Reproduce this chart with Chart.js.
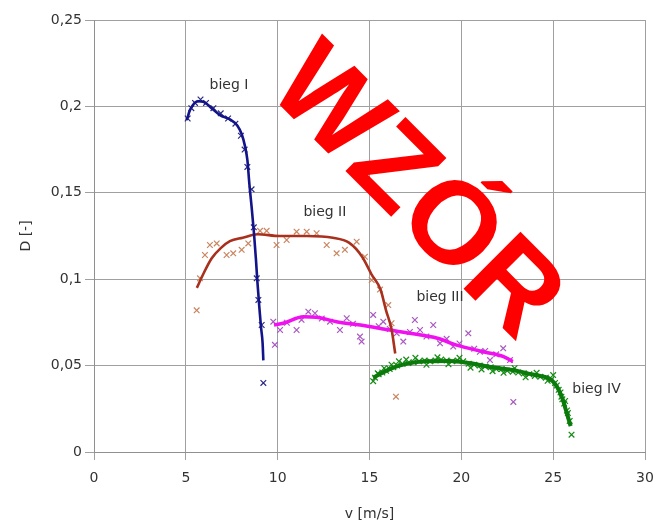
<!DOCTYPE html>
<html>
<head>
<meta charset="utf-8">
<script src="https://cdn.jsdelivr.net/npm/chart.js@4"></script>
<style>
body{margin:0;background:#fff;}
canvas{display:block;}
</style>
</head>
<body>
<canvas id="c" width="655" height="526"></canvas>
<script>
// Dane wykresu
const xTicks=[0,5,10,15,20,25,30];
const yTicks=[0,0.05,0.1,0.15,0.2,0.25];

// bieg I
const lineX1=[5.05,5.23,5.68,5.95,6.4,6.86,7.4,7.8,8.04,8.22,8.35,8.46,8.58,8.71,8.82,8.89,9.0,9.09,9.18,9.22];
const lineY1=[0.192,0.198,0.203,0.2027,0.199,0.195,0.1925,0.189,0.184,0.177,0.169,0.155,0.142,0.1266,0.111,0.0995,0.084,0.0725,0.063,0.053];
const markX1=[5.1,5.3,5.5,5.8,6.1,6.5,6.9,7.3,7.7,8.0,8.2,8.35,8.58,8.7,8.86,8.95,9.13,9.22];
const markY1=[0.193,0.199,0.202,0.204,0.202,0.199,0.196,0.193,0.190,0.183,0.175,0.165,0.152,0.130,0.1005,0.088,0.0735,0.040];

// bieg II
const lineX2=[5.6,5.95,6.4,6.9,7.4,8.1,8.9,10.1,11.6,13.0,13.9,14.6,15.1,15.6,15.9,16.2,16.4];
const lineY2=[0.095,0.103,0.112,0.118,0.122,0.124,0.126,0.125,0.125,0.124,0.121,0.113,0.103,0.094,0.082,0.071,0.057];
const markX2=[5.59,5.77,6.04,6.31,6.68,7.22,7.58,8.04,8.4,9.04,9.4,9.94,10.49,11.03,11.58,12.12,12.67,13.21,13.66,14.3,14.75,15.12,15.57,16.02,16.2,16.44];
const markY2=[0.082,0.1005,0.114,0.1198,0.1207,0.114,0.115,0.117,0.1207,0.128,0.128,0.1198,0.1227,0.1275,0.1275,0.1266,0.1198,0.115,0.117,0.1217,0.113,0.0995,0.094,0.085,0.0745,0.032];

// bieg III
const lineX3=[9.8,10.3,11.4,12.1,13.2,14.5,16.1,17.2,18.7,19.7,21.2,22.3,22.8];
const lineY3=[0.0735,0.0745,0.0783,0.078,0.0754,0.0735,0.0706,0.0687,0.0658,0.062,0.058,0.0552,0.0523];
const markX3=[9.76,9.85,10.13,10.5,11.03,11.3,11.67,12.03,12.4,12.85,13.39,13.76,14.1,14.48,14.57,15.2,15.5,15.75,16.1,16.48,16.84,17.2,17.47,17.75,18.1,18.47,18.84,19.2,19.56,19.9,20.38,20.7,21.01,21.3,21.56,21.9,22.28,22.65,22.83];
const markY3=[0.0754,0.062,0.0706,0.0748,0.0706,0.0765,0.0812,0.0803,0.0772,0.0754,0.0706,0.0774,0.0742,0.0668,0.0639,0.0793,0.0728,0.0754,0.0712,0.0687,0.0639,0.0695,0.0764,0.0706,0.0668,0.0735,0.0629,0.0655,0.061,0.0628,0.0687,0.0598,0.058,0.0585,0.0532,0.0565,0.06,0.0532,0.029];

// bieg IV
const lineX4=[15.2,16.1,17.0,18.1,19.4,20.4,21.7,22.8,23.6,24.3,24.8,25.2,25.5,25.7,25.95];
const lineY4=[0.043,0.048,0.051,0.0525,0.0527,0.0515,0.049,0.0475,0.0455,0.044,0.0425,0.038,0.031,0.024,0.015];
const markX4=[15.2,15.3,15.45,15.5,15.7,15.8,15.9,16.1,16.2,16.3,16.5,16.6,16.8,17.0,17.1,17.4,17.5,17.7,18.0,18.1,18.3,18.6,18.7,18.9,19.2,19.3,19.5,19.8,19.9,20.1,20.4,20.5,20.7,21.0,21.1,21.3,21.6,21.7,21.9,22.2,22.3,22.5,22.8,22.9,23.1,23.4,23.5,23.7,24.0,24.1,24.3,24.6,24.7,24.9,25.0,25.1,25.2,25.3,25.4,25.45,25.5,25.6,25.65,25.75,25.8,25.9,26.0];
const markY4=[0.041,0.043,0.0455,0.045,0.046,0.0485,0.047,0.048,0.0505,0.049,0.050,0.0525,0.051,0.0535,0.0515,0.052,0.0545,0.0525,0.053,0.0505,0.0525,0.053,0.0548,0.0535,0.053,0.0508,0.0525,0.053,0.0545,0.0525,0.051,0.0488,0.0505,0.050,0.0478,0.0495,0.049,0.0468,0.048,0.048,0.0458,0.047,0.0465,0.0485,0.046,0.0455,0.0432,0.045,0.044,0.0458,0.0435,0.043,0.0412,0.042,0.0445,0.040,0.0385,0.036,0.0345,0.032,0.0305,0.028,0.0295,0.024,0.0225,0.018,0.010];

// podpisy serii
const labelTexts=['bieg I','bieg II','bieg III','bieg IV'];
const labelX=[7.35,12.57,18.84,27.36];
const labelY=[0.2124,0.1389,0.0894,0.0364];

const FONT='"DejaVu Sans", sans-serif';
const pts=(xs,ys)=>xs.map((x,i)=>({x:x,y:ys[i]}));

function lineSet(xs,ys,color,w){
    return {data:pts(xs,ys),showLine:true,borderColor:color,borderWidth:w,pointRadius:0,cubicInterpolationMode:'monotone',fill:false};
}
function markSet(xs,ys,color){
    return {data:pts(xs,ys),showLine:false,pointStyle:'crossRot',pointRadius:4,borderColor:color,backgroundColor:color,pointBorderWidth:1.2};
}

// napisy serii + znak wodny
const overlay={
    id:'overlay',
    afterDatasetsDraw(chart){
        const ctx=chart.ctx,sx=chart.scales.x,sy=chart.scales.y;
        ctx.save();
        ctx.fillStyle='#333';
        ctx.font='14px '+FONT;
        ctx.textAlign='center';ctx.textBaseline='middle';
        labelTexts.forEach((t,i)=>ctx.fillText(t,sx.getPixelForValue(labelX[i]),sy.getPixelForValue(labelY[i])));
        // WZÓR
        ctx.translate(421,187);
        ctx.rotate(Math.PI/4);
        ctx.fillStyle='#ff0000';
        ctx.font='bold 117px "Liberation Sans", Arial, sans-serif';
        ctx.textBaseline='alphabetic';
        ctx.fillText('WZÓR',0,42);
        ctx.restore();
    }
};

new Chart(document.getElementById('c'),{
    type:'scatter',
    data:{datasets:[
        lineSet(lineX1,lineY1,'#14148a',2.6),markSet(markX1,markY1,'#2a2a80'),
        lineSet(lineX2,lineY2,'#a8301c',2.6),markSet(markX2,markY2,'#c98560'),
        lineSet(lineX3,lineY3,'#f010f0',3.5),markSet(markX3,markY3,'#a858c0'),
        lineSet(lineX4,lineY4,'#0a7a0a',4),markSet(markX4,markY4,'#148a14')
    ]},
    options:{
        responsive:false,animation:false,
        layout:{padding:{left:0,right:10,top:20,bottom:0}},
        plugins:{legend:{display:false},tooltip:{enabled:false}},
        scales:{
            x:{type:'linear',min:0,max:30,
                afterBuildTicks:s=>{s.ticks=xTicks.map(v=>({value:v}));},
                ticks:{color:'#333',font:{family:FONT,size:14},padding:10,maxRotation:0},
                grid:{color:'#a0a0a0',tickLength:8},
                border:{color:'#909090'},
                title:{display:true,text:'v [m/s]',color:'#333',font:{family:FONT,size:14},padding:{top:0,bottom:3}},
                afterFit:s=>{s.height=74;s.paddingLeft=0;s.paddingRight=0;}
            },
            y:{type:'linear',min:0,max:0.25,
                afterBuildTicks:s=>{s.ticks=yTicks.map(v=>({value:v}));},
                ticks:{color:'#333',font:{family:FONT,size:14},padding:3,
                    callback:v=>String(Math.round(v*100)/100).replace('.',',')},
                grid:{color:'#a0a0a0',tickLength:9},
                border:{color:'#909090'},
                title:{display:true,text:'D [-]',color:'#333',font:{family:FONT,size:14},padding:{top:18,bottom:0}},
                afterFit:s=>{s.width=94;s.paddingTop=0;s.paddingBottom=0;}
            }
        }
    },
    plugins:[overlay]
});
</script>
</body>
</html>
